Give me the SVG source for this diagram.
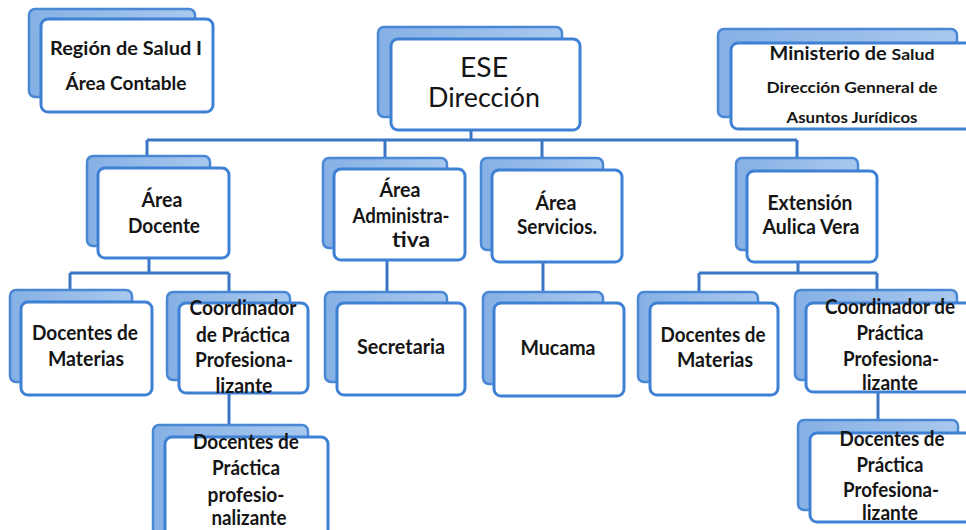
<svg xmlns="http://www.w3.org/2000/svg" width="966" height="530" viewBox="0 0 966 530">
<style>
.bk{fill:url(#g);stroke:#4a88d6;stroke-width:2.5}
.fr{fill:#fff;stroke:#3d80d4;stroke-width:3}
.c{stroke:#3a76c6;stroke-width:3;fill:none}
text{font-family:Lato,"Open Sans","Liberation Sans",sans-serif;font-weight:bold;fill:#151515;text-anchor:middle;font-size:20px}
.big{font-weight:normal;font-size:26px}
.sm{font-size:18px}
.xs{font-size:16px}
</style>
<defs>
<linearGradient id="g" x1="0" y1="0" x2="1" y2="0">
<stop offset="0" stop-color="#86b0e4"/>
<stop offset="1" stop-color="#a8c8ee"/>
</linearGradient>
</defs>
<rect width="966" height="530" fill="#fff"/>
<g id="connectors">
<path class="c" d="M471 130V140M147 140H797M147 140V158M385 140V160M542 140V160M797 140V160"/>
<path class="c" d="M149 258V273M70 273H229M70 273V292M229 273V294"/>
<path class="c" d="M387 260V294"/>
<path class="c" d="M543 262V294"/>
<path class="c" d="M798 262V273M699 273H877M699 273V294M877 273V292"/>
<path class="c" d="M229 393V427"/>
<path class="c" d="M878 392V422"/>
</g>
<g id="region">
<rect class="bk" x="29" y="9" width="166" height="88" rx="6"/>
<rect class="fr" x="41" y="19" width="172" height="93" rx="7"/>
<text class="sm" x="126" y="55" textLength="152" lengthAdjust="spacingAndGlyphs">Región de Salud  I</text>
<text class="sm" x="126" y="90" textLength="121" lengthAdjust="spacingAndGlyphs">Área Contable</text>
</g>
<g id="ese">
<rect class="bk" x="378" y="27" width="184" height="90" rx="6"/>
<rect class="fr" x="391" y="39" width="189" height="91" rx="7"/>
<text class="big" x="484" y="77" textLength="48" lengthAdjust="spacingAndGlyphs">ESE</text>
<text class="big" x="484" y="107" textLength="112" lengthAdjust="spacingAndGlyphs">Dirección</text>
</g>
<g id="ministerio">
<rect class="bk" x="718" y="29" width="239" height="88" rx="6"/>
<rect class="fr" x="731" y="43" width="245" height="86" rx="7"/>
<text class="sm" x="852" y="60" textLength="165" lengthAdjust="spacingAndGlyphs">Ministerio  de <tspan class="xs">Salud</tspan></text>
<text class="xs" x="852" y="93" textLength="171" lengthAdjust="spacingAndGlyphs">Dirección  Genneral de</text>
<text class="xs" x="852" y="123" textLength="131" lengthAdjust="spacingAndGlyphs">Asuntos Jurídicos</text>
</g>
<g id="docente">
<rect class="bk" x="87" y="156" width="123" height="90" rx="6"/>
<rect class="fr" x="98" y="168" width="131" height="90" rx="7"/>
<text x="162" y="207" textLength="41" lengthAdjust="spacingAndGlyphs">Área</text>
<text x="164" y="233" textLength="72" lengthAdjust="spacingAndGlyphs">Docente</text>
</g>
<g id="administrativa">
<rect class="bk" x="323" y="158" width="124" height="90" rx="6"/>
<rect class="fr" x="334" y="169" width="131" height="91" rx="7"/>
<text x="400" y="197" textLength="41" lengthAdjust="spacingAndGlyphs">Área</text>
<text x="401" y="223" textLength="97" lengthAdjust="spacingAndGlyphs">Administra-</text>
<text x="411" y="247" textLength="38" lengthAdjust="spacingAndGlyphs">tiva</text>
</g>
<g id="servicios">
<rect class="bk" x="481" y="158" width="122" height="92" rx="6"/>
<rect class="fr" x="492" y="170" width="130" height="92" rx="7"/>
<text x="556" y="210" textLength="41" lengthAdjust="spacingAndGlyphs">Área</text>
<text x="557" y="234" textLength="80" lengthAdjust="spacingAndGlyphs">Servicios.</text>
</g>
<g id="extension">
<rect class="bk" x="736" y="158" width="122" height="92" rx="6"/>
<rect class="fr" x="747" y="171" width="130" height="91" rx="7"/>
<text x="810" y="210" textLength="85" lengthAdjust="spacingAndGlyphs">Extensión</text>
<text x="811" y="234" textLength="97" lengthAdjust="spacingAndGlyphs">Aulica Vera</text>
</g>
<g id="docentes-materias-1">
<rect class="bk" x="10" y="290" width="122" height="92" rx="6"/>
<rect class="fr" x="21" y="302" width="131" height="93" rx="7"/>
<text x="85" y="340" textLength="106" lengthAdjust="spacingAndGlyphs">Docentes de</text>
<text x="86" y="366" textLength="76" lengthAdjust="spacingAndGlyphs">Materias</text>
</g>
<g id="coordinador-1">
<rect class="bk" x="167" y="292" width="123" height="88" rx="6"/>
<rect class="fr" x="179" y="303" width="129" height="90" rx="7"/>
<text x="243" y="315" textLength="107" lengthAdjust="spacingAndGlyphs">Coordinador</text>
<text x="243" y="342" textLength="94" lengthAdjust="spacingAndGlyphs">de Práctica</text>
<text x="244" y="367" textLength="98" lengthAdjust="spacingAndGlyphs">Profesiona-</text>
<text x="244" y="393" textLength="57" lengthAdjust="spacingAndGlyphs">lizante</text>
</g>
<g id="docentes-practica-1">
<rect class="bk" x="153" y="425" width="155" height="110" rx="6"/>
<rect class="fr" x="165" y="437" width="163" height="104" rx="7"/>
<text x="246" y="449" textLength="106" lengthAdjust="spacingAndGlyphs">Docentes de</text>
<text x="246" y="475" textLength="68" lengthAdjust="spacingAndGlyphs">Práctica</text>
<text x="246" y="502" textLength="77" lengthAdjust="spacingAndGlyphs">profesio-</text>
<text x="249" y="525" textLength="75" lengthAdjust="spacingAndGlyphs">nalizante</text>
</g>
<g id="secretaria">
<rect class="bk" x="325" y="292" width="122" height="90" rx="6"/>
<rect class="fr" x="337" y="303" width="128" height="92" rx="7"/>
<text x="401" y="354" textLength="88" lengthAdjust="spacingAndGlyphs">Secretaria</text>
</g>
<g id="mucama">
<rect class="bk" x="483" y="292" width="120" height="92" rx="6"/>
<rect class="fr" x="494" y="303" width="130" height="93" rx="7"/>
<text x="558" y="355" textLength="75" lengthAdjust="spacingAndGlyphs">Mucama</text>
</g>
<g id="docentes-materias-2">
<rect class="bk" x="638" y="292" width="120" height="90" rx="6"/>
<rect class="fr" x="650" y="303" width="128" height="92" rx="7"/>
<text x="713" y="342" textLength="105" lengthAdjust="spacingAndGlyphs">Docentes de</text>
<text x="715" y="367" textLength="76" lengthAdjust="spacingAndGlyphs">Materias</text>
</g>
<g id="coordinador-2">
<rect class="bk" x="795" y="290" width="162" height="90" rx="6"/>
<rect class="fr" x="806" y="303" width="170" height="89" rx="7"/>
<text x="890" y="314" textLength="130" lengthAdjust="spacingAndGlyphs">Coordinador de</text>
<text x="890" y="340" textLength="67" lengthAdjust="spacingAndGlyphs">Práctica</text>
<text x="891" y="366" textLength="96" lengthAdjust="spacingAndGlyphs">Profesiona-</text>
<text x="890" y="390" textLength="56" lengthAdjust="spacingAndGlyphs">lizante</text>
</g>
<g id="docentes-practica-2">
<rect class="bk" x="798" y="420" width="160" height="90" rx="6"/>
<rect class="fr" x="810" y="433" width="166" height="89" rx="7"/>
<text x="892" y="446" textLength="105" lengthAdjust="spacingAndGlyphs">Docentes de</text>
<text x="890" y="472" textLength="67" lengthAdjust="spacingAndGlyphs">Práctica</text>
<text x="891" y="497" textLength="96" lengthAdjust="spacingAndGlyphs">Profesiona-</text>
<text x="890" y="520" textLength="56" lengthAdjust="spacingAndGlyphs">lizante</text>
</g>
</svg>
